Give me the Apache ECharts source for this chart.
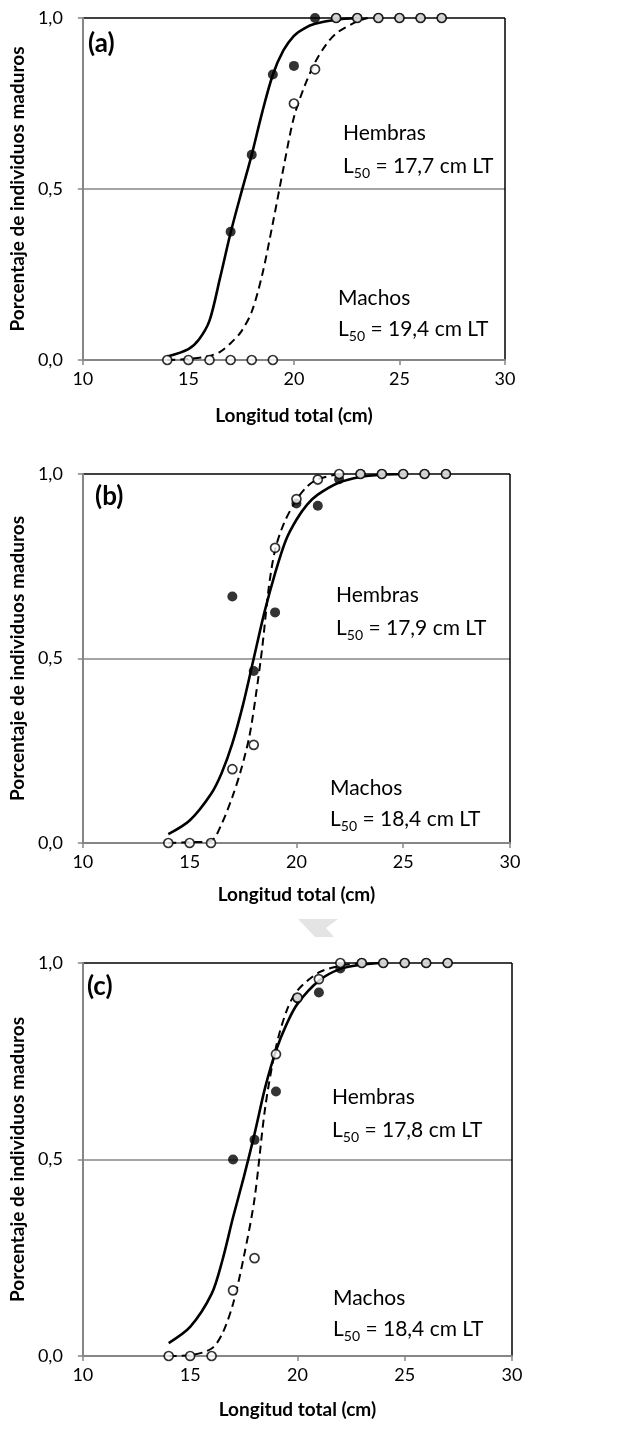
<!DOCTYPE html>
<html>
<head>
<meta charset="utf-8">
<script src="https://cdn.jsdelivr.net/npm/echarts@6/dist/echarts.min.js"></script>
<style>
  html, body { margin: 0; padding: 0; background: #fff; }
  #chart { width: 621px; height: 1437px; }
</style>
</head>
<body>
<div id="chart"></div>
<script>
  // tallas observadas (cm)
  const tallas = [14, 15, 16, 17, 18, 19, 20, 21, 22, 23, 24, 25, 26, 27];

  // (a) proporciones observadas
  const hembrasA = [null, null, null, 0.375, 0.60, 0.835, 0.86, 1.0, 1, 1, 1, 1, 1, 1];
  const machosA = [0, 0, 0, 0, 0, 0, 0.75, 0.85, 1, 1, 1, 1, 1, 1];
  // (b)
  const hembrasB = [null, null, null, 0.668, 0.466, 0.625, 0.92, 0.914, 0.986, 1, 1, 1, 1, 1];
  const machosB = [0, 0, 0, 0.20, 0.266, 0.80, 0.932, 0.985, 1, 1, 1, 1, 1, 1];
  // (c)
  const hembrasC = [null, null, null, 0.50, 0.55, 0.673, 0.91, 0.925, 0.986, 1, 1, 1, 1, 1];
  const machosC = [0, 0, 0, 0.167, 0.249, 0.768, 0.912, 0.959, 1, 1, 1, 1, 1, 1];

  // curvas ajustadas
  const curvaHA_x = [14, 15, 15.5, 16, 16.5, 17, 17.5, 18, 18.5, 19, 19.5, 20, 20.5, 21, 22, 23];
  const curvaHA_y = [0.01, 0.032, 0.06, 0.115, 0.24, 0.372, 0.488, 0.60, 0.725, 0.834, 0.905, 0.948, 0.97, 0.983, 0.995, 1.0];
  const curvaMA_x = [14, 15, 16, 16.5, 17, 17.5, 18, 18.5, 19, 19.5, 20, 20.5, 21, 21.5, 22, 23, 23.5];
  const curvaMA_y = [0, 0.003, 0.012, 0.024, 0.049, 0.083, 0.141, 0.25, 0.40, 0.56, 0.71, 0.80, 0.87, 0.92, 0.955, 0.99, 1.0];

  const curvaHB_x = [14, 15, 16, 16.5, 17, 17.5, 18, 18.5, 19, 19.5, 20, 20.5, 21, 22, 23, 24, 25];
  const curvaHB_y = [0.024, 0.061, 0.133, 0.19, 0.27, 0.375, 0.5, 0.625, 0.731, 0.82, 0.876, 0.917, 0.944, 0.977, 0.992, 0.998, 1.0];
  const curvaMB_x = [14, 15, 16, 16.5, 17, 17.4, 17.8, 18.1, 18.4, 18.7, 19, 19.42, 20, 20.5, 21, 22];
  const curvaMB_y = [0, 0.002, 0.006, 0.052, 0.125, 0.197, 0.29, 0.40, 0.53, 0.69, 0.794, 0.867, 0.93, 0.966, 0.986, 1.0];

  const curvaHC_x = [14, 15, 16, 16.5, 17, 17.5, 18, 18.5, 19, 19.5, 20, 21, 22, 23, 24];
  const curvaHC_y = [0.033, 0.074, 0.158, 0.243, 0.353, 0.455, 0.565, 0.684, 0.777, 0.845, 0.896, 0.955, 0.985, 0.996, 1.0];
  const curvaMC_x = [14, 15, 16, 16.5, 17, 17.5, 18, 18.5, 19, 19.5, 20, 21, 22, 23];
  const curvaMC_y = [0, 0.002, 0.019, 0.057, 0.133, 0.252, 0.40, 0.633, 0.786, 0.879, 0.93, 0.976, 0.993, 1.0];

  const paneles = ['(a)', '(b)', '(c)'];
  const l50Hembras = ['17,7', '17,9', '17,8'];
  const l50Machos = ['19,4', '18,4', '18,4'];

  const FONT = 'Lato, "Open Sans", sans-serif';
  const GRAY = '#868686';

  function pares(xs, ys) {
    return xs.map(function (x, i) { return [x, ys[i]]; });
  }

  const grids = [
    { left: 77, top: 18, width: 428, height: 342 },
    { left: 81, top: 474, width: 429, height: 369 },
    { left: 80, top: 963, width: 432, height: 393 }
  ];
  const xNameGap = [46, 42, 44];

  const xAxes = grids.map(function (g, i) {
    return {
      type: 'value', gridIndex: i, min: 10, max: 30, interval: 5,
      name: 'Longitud total (cm)', nameLocation: 'middle', nameGap: xNameGap[i],
      nameTextStyle: { fontFamily: FONT, fontWeight: 'bold', fontSize: 19, color: '#000' },
      axisLine: { lineStyle: { color: GRAY, width: 2 } },
      axisTick: { show: true, length: 5, lineStyle: { color: GRAY, width: 1.5 } },
      axisLabel: { fontFamily: FONT, fontSize: 18, color: '#000', margin: 10 },
      splitLine: { show: true, lineStyle: { color: ['rgba(0,0,0,0)', 'rgba(0,0,0,0)', 'rgba(0,0,0,0)', 'rgba(0,0,0,0)', '#000'], width: 1.5 } }
    };
  });

  const yAxes = grids.map(function (g, i) {
    return {
      type: 'value', gridIndex: i, min: 0, max: 1, interval: 0.5,
      name: 'Porcentaje de individuos maduros', nameLocation: 'middle', nameGap: 39,
      nameTextStyle: { fontFamily: FONT, fontWeight: 'bold', fontSize: 19, color: '#000' },
      axisLine: { show: true, lineStyle: { color: GRAY, width: 2 } },
      axisTick: { show: true, length: 5, lineStyle: { color: GRAY, width: 1.5 } },
      axisLabel: {
        fontFamily: FONT, fontSize: 18, color: '#000', margin: 20,
        formatter: function (v) { return v.toFixed(1).replace('.', ','); }
      },
      splitLine: { show: true, lineStyle: { color: [GRAY, GRAY, '#000'], width: 1.5 } }
    };
  });

  const curvas = [
    [curvaHA_x, curvaHA_y, curvaMA_x, curvaMA_y],
    [curvaHB_x, curvaHB_y, curvaMB_x, curvaMB_y],
    [curvaHC_x, curvaHC_y, curvaMC_x, curvaMC_y]
  ];
  const puntos = [[hembrasA, machosA], [hembrasB, machosB], [hembrasC, machosC]];

  const series = [];
  curvas.forEach(function (c, i) {
    series.push({
      type: 'line', xAxisIndex: i, yAxisIndex: i, data: pares(c[0], c[1]),
      smooth: 0.3, showSymbol: false, symbol: 'none', z: 3,
      lineStyle: { color: '#000', width: 2.6 }
    });
    series.push({
      type: 'line', xAxisIndex: i, yAxisIndex: i, data: pares(c[2], c[3]),
      smooth: 0.3, showSymbol: false, symbol: 'none', z: 3,
      lineStyle: { color: '#000', width: 2, type: [8, 5] }
    });
    series.push({
      type: 'scatter', xAxisIndex: i, yAxisIndex: i, z: 4,
      data: pares(tallas, puntos[i][0]).filter(function (p) { return p[1] !== null; }),
      symbol: 'circle', symbolSize: 10,
      itemStyle: { color: '#000' }
    });
    series.push({
      type: 'scatter', xAxisIndex: i, yAxisIndex: i, z: 5,
      data: pares(tallas, puntos[i][1]),
      symbol: 'circle', symbolSize: 9,
      itemStyle: { color: '#fff', borderColor: '#000', borderWidth: 1.7 }
    });
  });

  // textos de cada panel
  const posPanel = [[88, 47], [95, 500], [87, 990]];
  const posHembras = [[343, 133], [336, 595], [332, 1097]];
  const posMachos = [[338, 298], [330, 788], [333, 1298]];

  const rich = {
    t: { fontFamily: FONT, fontSize: 21, color: '#000', lineHeight: 26, verticalAlign: 'bottom' },
    s: { fontFamily: FONT, fontSize: 14, color: '#000', lineHeight: 14, verticalAlign: 'bottom', padding: [0, 0, -3, 0] }
  };

  const graphic = [];
  paneles.forEach(function (p, i) {
    graphic.push({
      type: 'text', left: posPanel[i][0], top: posPanel[i][1] - 16,
      style: { text: p, font: 'bold 26px ' + FONT, fill: '#000' }
    });
    graphic.push({
      type: 'text', left: posHembras[i][0], top: posHembras[i][1] - 10,
      style: { text: 'Hembras', font: '21px ' + FONT, fill: '#000' }
    });
    graphic.push({
      type: 'text', left: posHembras[i][0], top: posHembras[i][1] + 23,
      style: { text: '{t|L}{s|50}{t| = ' + l50Hembras[i] + ' cm LT}', rich: rich }
    });
    graphic.push({
      type: 'text', left: posMachos[i][0], top: posMachos[i][1] - 10,
      style: { text: 'Machos', font: '21px ' + FONT, fill: '#000' }
    });
    graphic.push({
      type: 'text', left: posMachos[i][0], top: posMachos[i][1] + 21,
      style: { text: '{t|L}{s|50}{t| = ' + l50Machos[i] + ' cm LT}', rich: rich }
    });
  });
  // marca de agua gris entre (b) y (c)
  graphic.push({
    type: 'polygon', z: -1,
    shape: { points: [[298, 919], [338, 919], [326, 928], [334, 937], [315, 937]] },
    style: { fill: '#e4e4e4' }
  });

  const chart = echarts.init(document.getElementById('chart'));
  chart.setOption({
    animation: false,
    grid: grids,
    xAxis: xAxes,
    yAxis: yAxes,
    series: series,
    graphic: graphic
  });
</script>
</body>
</html>
